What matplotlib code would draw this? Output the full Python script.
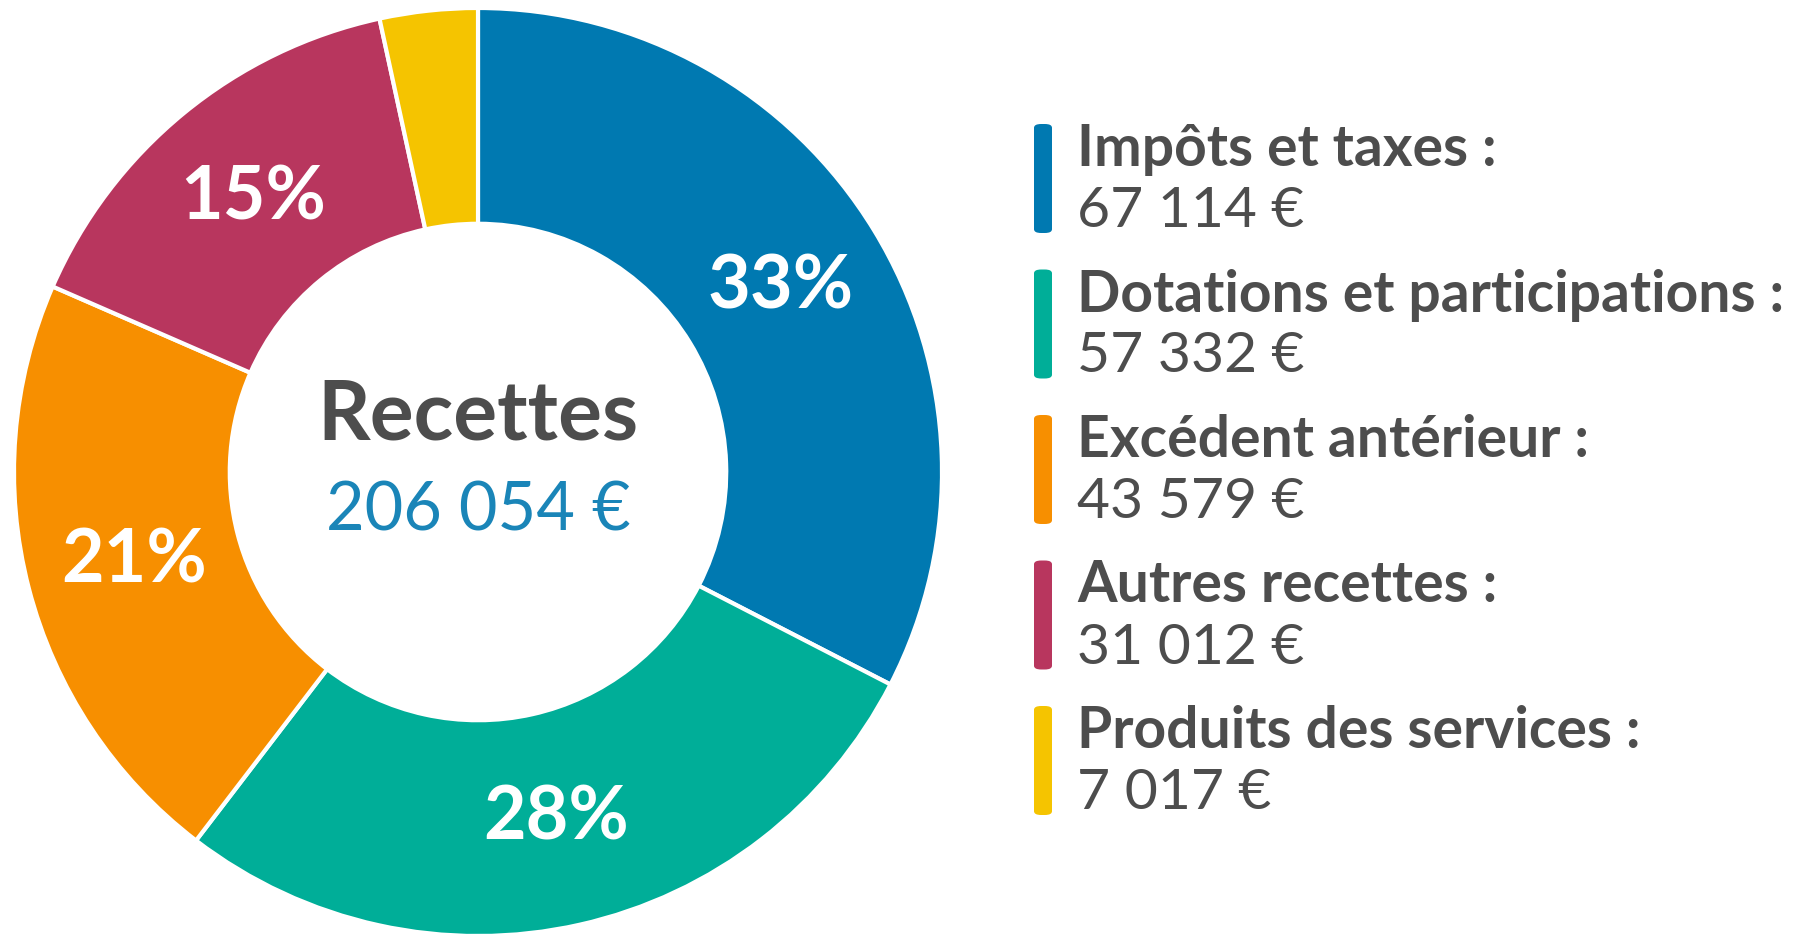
import matplotlib
matplotlib.use("Agg")
import matplotlib.pyplot as plt
from matplotlib.patches import FancyBboxPatch
import numpy as np

plt.rcParams['font.family'] = ['Lato', 'DejaVu Sans']

categories = ["Impôts et taxes", "Dotations et participations", "Excédent antérieur",
              "Autres recettes", "Produits des services"]
values = [67114, 57332, 43579, 31012, 7017]
value_labels = ["67 114\u202f€", "57 332\u202f€", "43 579\u202f€", "31 012\u202f€", "7 017\u202f€"]
pct_labels = ["33%", "28%", "21%", "15%", ""]
colors = ["#0079B1", "#00AE98", "#F78F00", "#B8365E", "#F5C400"]
title = "Recettes"
total_label = "206 054 €"

W, H = 1796, 934
fig = plt.figure(figsize=(W / 100, H / 100), dpi=100)

cx, cy, r = 478, 472, 464
ax = fig.add_axes([(cx - r) / W, (H - cy - r) / H, 2 * r / W, 2 * r / H])
wedges, _ = ax.pie(values, colors=colors, startangle=90, counterclock=False,
                   radius=1.0, wedgeprops=dict(width=0.465, edgecolor="white", linewidth=3))
ax.set_xlim(-1, 1)
ax.set_ylim(-1, 1)
ax.set_aspect("equal")
ax.axis("off")

# percentage labels at mid ring
tot = sum(values)
start = 90.0
for v, lab in zip(values, pct_labels):
    span = v / tot * 360
    mid = np.deg2rad(start - span / 2)
    start -= span
    if lab:
        ax.text(0.765 * np.cos(mid), 0.765 * np.sin(mid), lab, ha="center", va="center",
                fontsize=53, fontweight="bold", color="white")

ax.text(0, 0.12, title, ha="center", va="center", fontsize=59, fontweight="bold", color="#4D4D4D")
ax.text(0, -0.085, total_label, ha="center", va="center", fontsize=48, color="#1A85B8")

# legend
x_bar, x_txt = 1034, 1077
y0, step = 124, 145.5
for i, (cat, vl, col) in enumerate(zip(categories, value_labels, colors)):
    top = y0 + i * step
    bar = FancyBboxPatch(((x_bar) / W, 1 - (top + 109) / H), 18 / W, 109 / H,
                         boxstyle="round,pad=0,rounding_size=0.004",
                         transform=fig.transFigure, facecolor=col, edgecolor="none")
    fig.patches.append(bar)
    fig.text(x_txt / W, 1 - (top + 42) / H, cat + " :", ha="left", va="baseline",
             fontsize=41, fontweight="bold", color="#4D4D4D")
    fig.text(x_txt / W, 1 - (top + 103) / H, vl, ha="left", va="baseline",
             fontsize=41, color="#4D4D4D")

fig.savefig("out.png", dpi=100, facecolor="white")
